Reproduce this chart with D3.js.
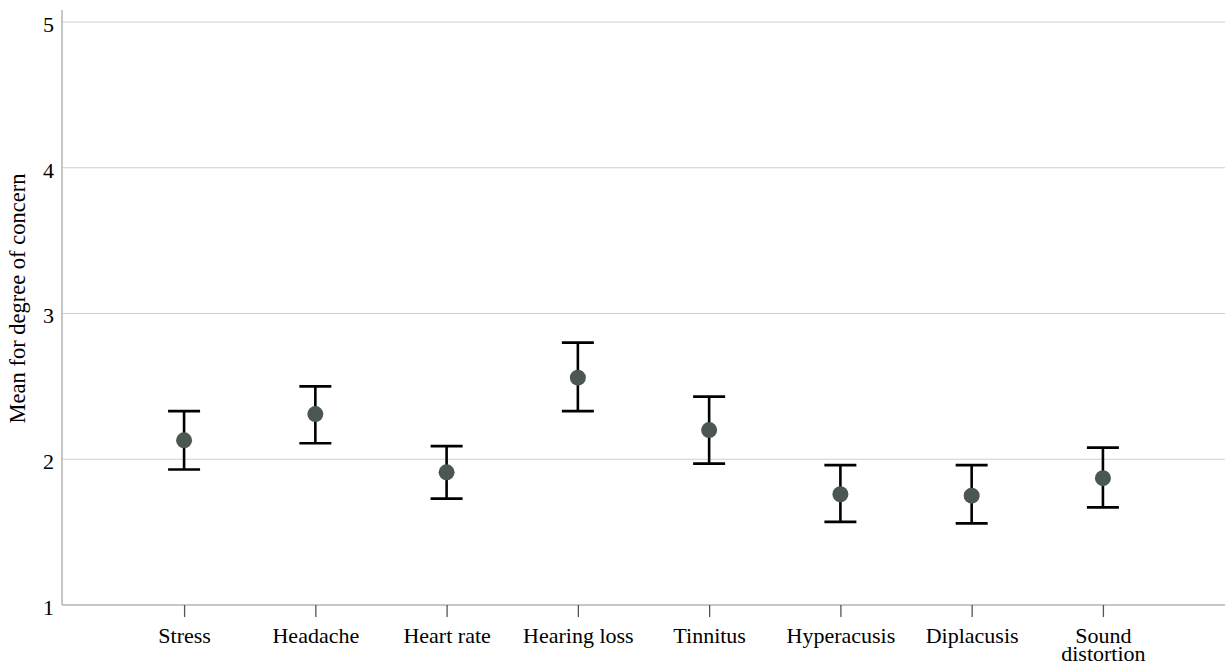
<!DOCTYPE html>
<html lang="en">
<head>
  <meta charset="UTF-8">
  <title>Degree of concern</title>
  <style>
    body { margin: 0; background: #fff; }
    svg text { font-family: "Liberation Serif", "Times New Roman", serif; fill: #000; }
  </style>
</head>
<body>
  <div id="chart"></div>

  <script src="https://d3js.org/d3.v7.min.js"></script>
  <script>

    // values
    const categories = ["Stress", "Headache", "Heart rate", "Hearing loss", "Tinnitus",
                        "Hyperacusis", "Diplacusis", "Sound distortion"];
    const means = [2.13, 2.31, 1.91, 2.56, 2.20, 1.76, 1.75, 1.87];
    const upper = [2.33, 2.50, 2.09, 2.80, 2.43, 1.96, 1.96, 2.08];
    const lower = [1.93, 2.11, 1.73, 2.33, 1.97, 1.57, 1.56, 1.67];
    const yTicks = [1, 2, 3, 4, 5];

    const width = 1225,
          height = 666,
          margin = {top: 22, right: 0, bottom: 61, left: 62};
    const fontSize = 22;

    const data = categories.map((c, i) => ({cat: c, mean: means[i], hi: upper[i], lo: lower[i]}));

    const svg = d3.select("#chart")
      .append("svg")
      .attr("width", width)
      .attr("height", height);

    const x = d3.scalePoint(categories, [margin.left, width - margin.right])
      .padding(0.93);

    const y = d3.scaleLinear([1, 5], [height - margin.bottom, margin.top]);

    // gridlines
    svg.append("g")
      .selectAll("line")
      .data(yTicks.slice(1))
      .join("line")
      .attr("x1", margin.left)
      .attr("x2", width - margin.right)
      .attr("y1", d => y(d))
      .attr("y2", d => y(d))
      .attr("stroke", "#cfcfcf")
      .attr("stroke-width", 1.2);

    // y axis
    const yAxis = svg.append("g")
      .attr("transform", `translate(${margin.left},0)`)
      .call(d3.axisLeft(y).tickValues(yTicks).tickSize(0).tickPadding(8).tickFormat(d3.format("d")));
    yAxis.attr("font-family", null);
    yAxis.select(".domain").remove();
    yAxis.selectAll("text")
      .style("font-size", fontSize + "px")
      .attr("dy", "0.42em");
    svg.append("line")
      .attr("x1", margin.left).attr("x2", margin.left)
      .attr("y1", 10).attr("y2", y(1))
      .attr("stroke", "#b4b4b4").attr("stroke-width", 1.5);

    // x axis
    const xAxis = svg.append("g")
      .attr("transform", `translate(0,${y(1)})`)
      .call(d3.axisBottom(x).tickSize(12).tickPadding(10));
    xAxis.attr("font-family", null);
    xAxis.select(".domain")
      .attr("d", `M${margin.left},0H${width - margin.right}`)
      .attr("stroke", "#b4b4b4").attr("stroke-width", 1.5);
    xAxis.selectAll(".tick line").attr("stroke", "#555").attr("stroke-width", 1.3);
    xAxis.selectAll("text")
      .style("font-size", fontSize + "px")
      .each(function(d) {
        const t = d3.select(this);
        if (d === "Sound distortion") {
          t.text(null);
          t.append("tspan").attr("x", 0).attr("dy", "0.71em").text("Sound");
          t.append("tspan").attr("x", 0).attr("dy", "0.84em").text("distortion");
        }
      });

    // y axis title
    svg.append("text")
      .attr("transform", `translate(25,${(y(1) + y(5)) / 2 - 15}) rotate(-90)`)
      .attr("text-anchor", "middle")
      .style("font-size", "22.5px")
      .text("Mean for degree of concern");

    // error bars
    const bars = svg.append("g")
      .selectAll("g")
      .data(data)
      .join("g")
      .attr("stroke", "#000")
      .attr("stroke-width", 2.6);

    bars.append("line")
      .attr("x1", d => x(d.cat)).attr("x2", d => x(d.cat))
      .attr("y1", d => y(d.hi)).attr("y2", d => y(d.lo));
    bars.append("line")
      .attr("x1", d => x(d.cat) - 16).attr("x2", d => x(d.cat) + 16)
      .attr("y1", d => y(d.hi)).attr("y2", d => y(d.hi));
    bars.append("line")
      .attr("x1", d => x(d.cat) - 16).attr("x2", d => x(d.cat) + 16)
      .attr("y1", d => y(d.lo)).attr("y2", d => y(d.lo));

    svg.append("g")
      .selectAll("circle")
      .data(data)
      .join("circle")
      .attr("cx", d => x(d.cat))
      .attr("cy", d => y(d.mean))
      .attr("r", 8)
      .attr("fill", "#4b5751");

  </script>
</body>
</html>
